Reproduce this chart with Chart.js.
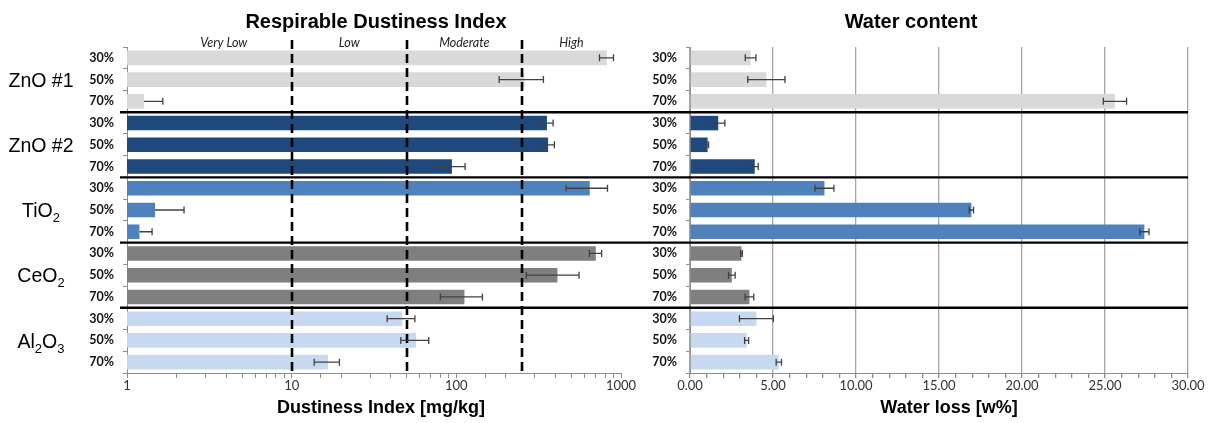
<!DOCTYPE html>
<html>
<head>
<meta charset="utf-8">
<script src="https://cdn.jsdelivr.net/npm/chart.js@4.4.1/dist/chart.umd.min.js"></script>
<style>
  html, body { margin: 0; padding: 0; background: #fff; }
  #wrap { position: relative; width: 1215px; height: 423px; overflow: hidden; }
  canvas { position: absolute; top: 0; }
</style>
</head>
<body>
<div id="wrap">
  <canvas id="rdi" width="640" height="423" style="left:0"></canvas>
  <canvas id="water" width="575" height="423" style="left:640px"></canvas>
</div>
<script>
// Materials (braces mark subscripts) and the humidity levels tested for each
const materials = ['ZnO #1', 'ZnO #2', 'TiO{2}', 'CeO{2}', 'Al{2}O{3}'];
const humidities = ['30%', '50%', '70%'];
const materialColors = ['#d9d9d9', '#1f497d', '#4f81bd', '#7f7f7f', '#c6d9f1'];

// Respirable dustiness index [mg/kg], one value per material x humidity
const rdiMean = [820, 260, 1.27,  355, 361, 94,  646, 1.48, 1.19,  703, 411, 112,  47, 57, 16.6];
const rdiErr  = [80, 78, 0.38,    32, 33, 19,    182, 0.74, 0.23,  60, 145, 32,   9, 11, 2.9];

// Water loss [w%]
const waterMean = [3.65, 4.6, 25.6,  1.7, 1.06, 3.9,  8.1, 16.95, 27.37,  3.1, 2.52, 3.58,  4.0, 3.41, 5.35];
const waterErr  = [0.32, 1.12, 0.7,  0.4, 0.06, 0.21, 0.57, 0.13, 0.28,   0.05, 0.2, 0.26,  1.02, 0.12, 0.16];

// Axis tick labels
const rdiTicks = [1, 10, 100, 1000];
const waterTickStep = 5;

// Dustiness classes: dashed limits and class names
const zoneLimits = [10, 50, 250];
const zoneNames = ['Very Low', 'Low', 'Moderate', 'High'];
const zoneSpan = [1.5, 1000];

const rowLabels = materials.flatMap(() => humidities);
const barColors = rowLabels.map((_, i) => materialColors[Math.floor(i / humidities.length)]);

const SANS = '"Liberation Sans", Arial, sans-serif';
const BODY = 'Lato, "Open Sans", sans-serif';
const AXIS_GREY = '#8c8c8c';

function errorBars(means, errors) {
  return {
    id: 'errorBars',
    afterDatasetsDraw(chart) {
      const { ctx, chartArea } = chart;
      const xs = chart.scales.x;
      const meta = chart.getDatasetMeta(0);
      ctx.save();
      ctx.beginPath();
      ctx.rect(chartArea.left, 0, chart.width - chartArea.left, chart.height);
      ctx.clip();
      ctx.strokeStyle = '#404040';
      ctx.lineWidth = 1.3;
      means.forEach((m, i) => {
        const e = errors[i];
        const y = meta.data[i].y;
        const lowVisible = m - e >= xs.min;
        const x0 = xs.getPixelForValue(lowVisible ? m - e : m);
        const x1 = xs.getPixelForValue(m + e);
        ctx.beginPath();
        ctx.moveTo(x0, y); ctx.lineTo(x1, y);
        if (lowVisible) { ctx.moveTo(x0, y - 3.5); ctx.lineTo(x0, y + 3.5); }
        ctx.moveTo(x1, y - 3.5); ctx.lineTo(x1, y + 3.5);
        ctx.stroke();
      });
      ctx.restore();
    }
  };
}

function groupSeparators(x0fn, x1fn) {
  return {
    id: 'groupSeparators',
    afterDraw(chart) {
      const { ctx } = chart;
      const ys = chart.scales.y;
      const n = humidities.length;
      ctx.save();
      ctx.strokeStyle = '#000';
      ctx.lineWidth = 2.4;
      for (let g = 1; g < materials.length; g++) {
        const y = (ys.getPixelForValue(g * n - 1) + ys.getPixelForValue(g * n)) / 2;
        ctx.beginPath();
        ctx.moveTo(x0fn(chart), y);
        ctx.lineTo(x1fn(chart), y);
        ctx.stroke();
      }
      ctx.restore();
    }
  };
}

function textBlock(title, titleX, axisTitle, axisTitleX) {
  return {
    id: 'textBlock',
    afterDraw(chart) {
      const { ctx } = chart;
      ctx.save();
      ctx.fillStyle = '#000';
      ctx.textAlign = 'center';
      ctx.textBaseline = 'middle';
      ctx.font = 'bold 20px ' + SANS;
      ctx.fillText(title, titleX, 22);
      ctx.font = 'bold 18px ' + SANS;
      ctx.fillText(axisTitle, axisTitleX, 408);
      ctx.restore();
    }
  };
}

function drawChemical(ctx, text, cx, baseline) {
  const parts = [];
  text.replace(/\{([^}]*)\}|[^{]+/g, (m, sub) => {
    parts.push(sub !== undefined ? { t: sub, sub: true } : { t: m, sub: false });
    return m;
  });
  const big = '19.5px ' + SANS, small = '13px ' + SANS;
  let width = 0;
  parts.forEach(p => { ctx.font = p.sub ? small : big; p.w = ctx.measureText(p.t).width; width += p.w; });
  let x = cx - width / 2;
  ctx.textAlign = 'left';
  ctx.textBaseline = 'alphabetic';
  parts.forEach(p => {
    ctx.font = p.sub ? small : big;
    ctx.fillText(p.t, x, baseline + (p.sub ? 5 : 0));
    x += p.w;
  });
}

const groupNames = {
  id: 'groupNames',
  afterDraw(chart) {
    const { ctx } = chart;
    const ys = chart.scales.y;
    const n = humidities.length;
    ctx.save();
    ctx.fillStyle = '#000';
    materials.forEach((name, g) => {
      const top = (ys.getPixelForValue(g * n) + ys.getPixelForValue(g * n - 1)) / 2;
      const bottom = (ys.getPixelForValue(g * n + n - 1) + ys.getPixelForValue(g * n + n)) / 2;
      const mid = (top + bottom) / 2;
      drawChemical(ctx, name, 41, mid + 7.2);
    });
    ctx.restore();
  }
};

const dustZones = {
  id: 'dustZones',
  afterDatasetsDraw(chart) {
    const { ctx, chartArea } = chart;
    const xs = chart.scales.x;
    ctx.save();
    ctx.strokeStyle = '#000';
    ctx.lineWidth = 2.6;
    ctx.setLineDash([9, 5]);
    zoneLimits.forEach(v => {
      const x = Math.round(xs.getPixelForValue(v));
      ctx.beginPath();
      ctx.moveTo(x, 40);
      ctx.lineTo(x, chartArea.bottom + 3);
      ctx.stroke();
    });
    ctx.setLineDash([]);
    const edges = [zoneSpan[0], ...zoneLimits, zoneSpan[1]];
    ctx.fillStyle = '#222';
    ctx.font = 'italic 12.5px ' + BODY;
    ctx.textAlign = 'center';
    ctx.textBaseline = 'middle';
    zoneNames.forEach((name, i) => {
      const x = (xs.getPixelForValue(edges[i]) + xs.getPixelForValue(edges[i + 1])) / 2;
      ctx.fillText(name, x, 43);
    });
    ctx.restore();
  }
};

function categoryAxis(width) {
  return {
    type: 'category',
    grid: { offset: true, drawOnChartArea: false, tickLength: 4, color: AXIS_GREY },
    border: { color: AXIS_GREY },
    ticks: { autoSkip: false, padding: 9, color: '#111', font: { family: BODY, size: 12.5, weight: 'bold' } },
    afterFit(scale) { scale.width = width; }
  };
}

function barData(values) {
  return {
    labels: rowLabels,
    datasets: [{
      data: values,
      backgroundColor: barColors,
      borderWidth: 0,
      categoryPercentage: 1,
      barPercentage: 0.67
    }]
  };
}

const common = {
  indexAxis: 'y',
  responsive: false,
  animation: false,
  devicePixelRatio: 1,
  plugins: { legend: { display: false }, tooltip: { enabled: false }, title: { display: false } }
};

new Chart(document.getElementById('rdi'), {
  type: 'bar',
  data: barData(rdiMean),
  options: {
    ...common,
    layout: { padding: { top: 47, right: 19, left: 0, bottom: 0 } },
    scales: {
      y: categoryAxis(127),
      x: {
        type: 'logarithmic',
        min: rdiTicks[0],
        max: rdiTicks[rdiTicks.length - 1],
        grid: { drawOnChartArea: false, tickLength: 5, color: AXIS_GREY },
        border: { color: AXIS_GREY },
        ticks: {
          autoSkip: false, maxRotation: 0, padding: 0, color: '#333',
          font: { family: BODY, size: 13 },
          callback: v => rdiTicks.includes(v) ? String(v) : ''
        },
        afterFit(scale) { scale.height = 50; }
      }
    }
  },
  plugins: [
    dustZones,
    errorBars(rdiMean, rdiErr),
    groupNames,
    groupSeparators(c => c.chartArea.left - 7, c => c.width),
    textBlock('Respirable Dustiness Index', 376, 'Dustiness Index [mg/kg]', 381)
  ]
});

new Chart(document.getElementById('water'), {
  type: 'bar',
  data: barData(waterMean),
  options: {
    ...common,
    layout: { padding: { top: 47, right: 27, left: 0, bottom: 0 } },
    scales: {
      y: categoryAxis(50),
      x: {
        type: 'linear',
        min: 0,
        max: 30,
        grid: {
          drawOnChartArea: true, tickLength: 5, lineWidth: 1.3,
          color: c => (c.tick && c.tick.value % waterTickStep === 0) ? '#a6a6a6' : 'rgba(0,0,0,0)',
          tickColor: AXIS_GREY
        },
        border: { color: AXIS_GREY },
        ticks: {
          stepSize: 1, autoSkip: false, maxRotation: 0, padding: 0, color: '#333',
          font: { family: BODY, size: 13 },
          callback: v => v % waterTickStep === 0 ? v.toFixed(2) : ''
        },
        afterFit(scale) { scale.height = 50; }
      }
    }
  },
  plugins: [
    errorBars(waterMean, waterErr),
    groupSeparators(() => 0, c => c.chartArea.right),
    textBlock('Water content', 271, 'Water loss [w%]', 309)
  ]
});
</script>
</body>
</html>
